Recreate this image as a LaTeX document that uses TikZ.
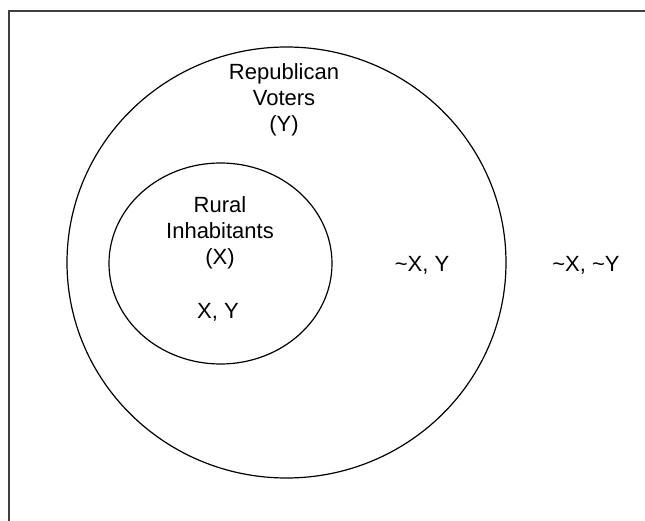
\documentclass[tikz,border=0pt]{standalone}
\usepackage{fontspec}
\setmainfont{Liberation Sans}
\begin{document}
\begin{tikzpicture}[x=1pt,y=-1pt,
  lbl/.style={font=\fontsize{22}{26}\selectfont, align=center, inner sep=0pt},
  setshape/.style={draw=black, line width=1.2pt}]
\useasboundingbox (0,0) rectangle (645,521);
\coordinate (ftl) at (9,11);
\coordinate (ftr) at (646,11);
\coordinate (fbl) at (9,522);
\draw[line width=1.6pt, black!75] (ftr) -- (ftl) -- (fbl);
\draw[setshape] (286.5,262.5) ellipse [x radius=219.5, y radius=215.5];
\draw[setshape] (220.5,263.5) ellipse [x radius=111.5, y radius=100.5];
\node[lbl] (rep) at (284,99.5) {Republican\\Voters\\(Y)};
\node[lbl] (rur) at (220,233) {Rural\\Inhabitants\\(X)};
\node[lbl] (xy) at (218,312) {X, Y};
\node[lbl] (nxy) at (422,265) {\textasciitilde X, Y};
\node[lbl] (nxny) at (586,265) {\textasciitilde X, \textasciitilde Y};
\end{tikzpicture}
\end{document}
